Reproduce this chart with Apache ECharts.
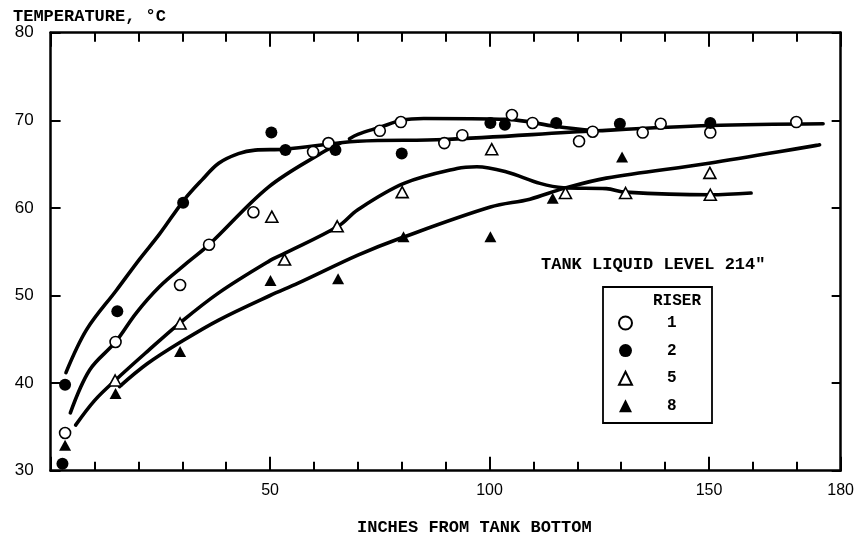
<!DOCTYPE html>
<html>
<head>
<meta charset="utf-8">
<script src="https://cdn.jsdelivr.net/npm/echarts@6/dist/echarts.min.js"></script>
<style>
  html, body { margin: 0; padding: 0; background: #fff; }
  #chart { width: 857px; height: 541px; }
</style>
</head>
<body>
<div id="chart"></div>
<script>
// Measured temperatures [inches from tank bottom, °C] for each riser
const riser1 = [[3.3,34.3],[14.8,44.7],[29.5,51.2],[36.1,55.8],[46.2,59.5],[59.8,66.4],[63.3,67.4],
  [75.0,68.8],[79.8,69.8],[89.7,67.4],[93.8,68.3],[105.1,70.6],[109.8,69.7],[120.4,67.6],[123.5,68.7],
  [134.9,68.6],[139.0,69.6],[150.3,68.6],[169.9,69.8]];
const riser2 = [[2.7,30.8],[3.3,39.8],[15.2,48.2],[30.2,60.6],[50.3,68.6],[53.5,66.6],[64.9,66.6],
  [80.0,66.2],[100.2,69.7],[103.5,69.5],[115.2,69.7],[129.7,69.6],[150.3,69.7]];
const riser5 = [[14.7,40.3],[29.5,46.8],[50.4,59.0],[53.3,54.1],[65.3,57.9],[80.1,61.8],[100.5,66.7],
  [117.3,61.7],[131.0,61.7],[150.2,64.0],[150.3,61.5]];
const riser8 = [[3.3,32.9],[14.8,38.8],[29.5,43.6],[50.1,51.7],[65.5,51.9],[80.4,56.7],[100.2,56.7],
  [114.4,61.1],[130.2,65.8]];

// Hand-faired curves through the measurements
const curveRiser2 = [[3.5,41.2],[8.2,46.1],[15,50.6],[20.2,54.1],[24.8,57.0],[30.4,60.9],[34.5,63.2],
  [38.3,65.1],[42.8,66.2],[46.6,66.6],[53.4,66.7],[70,67.6],[89.7,67.8],[124.4,68.8],[150.3,69.4],[176,69.6]];
const curveRiser1 = [[4.5,36.6],[8.9,41.5],[14.8,44.7],[19.5,48.0],[24.8,51.0],[30.8,53.6],[36.1,55.8],
  [49.7,62.4],[62.5,66.5],[66,67.4]];
const curveRiser1Upper = [[68.1,67.9],[70,68.4],[75,69.2],[80,70.0],[85,70.2],[104,70.1],[115.2,69.3],[124.4,68.8]];
const curveRiser5 = [[5.7,35.2],[10,38.0],[14.7,40.3],[22,43.6],[29.3,46.8],[38.3,50.3],[49.7,53.9],
  [53.3,54.8],[65.5,57.9],[70,59.8],[80.5,62.8],[92.6,64.5],[97.1,64.7],[103.9,64.1],[111.5,62.8],
  [116.8,62.3],[126.6,62.2],[131,61.8],[150.3,61.5],[159.6,61.7]];
const curveRiser8 = [[15.7,39.6],[22,42.2],[30,44.8],[38.3,47.2],[50,50.0],[56.4,51.4],[70,54.6],
  [79.5,56.5],[100.2,60.1],[109.2,61.0],[116.8,62.2],[126.6,63.4],[150,65.1],[175.2,67.2]];

const xLabelValues = [50, 100, 150, 180];
const yLabelValues = [30, 40, 50, 60, 70, 80];

const MONO = '"Liberation Mono", "DejaVu Sans Mono", monospace';
const SANS = '"Liberation Sans", Arial, sans-serif';
const INK = '#000';

const chart = echarts.init(document.getElementById('chart'), null, { renderer: 'canvas' });

function curve(data) {
  return {
    type: 'line', data, smooth: 0.35, showSymbol: false, symbol: 'none', silent: true,
    lineStyle: { color: INK, width: 3.6, cap: 'round', join: 'round' }, z: 2
  };
}
function points(name, data, symbol, filled, size) {
  return {
    name, type: 'scatter', data, symbol, symbolSize: size, z: 5,
    itemStyle: { color: filled ? INK : '#fff', borderColor: INK, borderWidth: filled ? 0 : 1.6, opacity: 1 }
  };
}

const baseX = { type: 'value', min: 0, max: 180, splitLine: { show: false }, gridIndex: 0 };
const lineStyle = { color: INK, width: 2.5 };

chart.setOption({
  animation: false,
  backgroundColor: '#fff',
  grid: { left: 50.6, right: 9, top: 32.7, bottom: 70.3, containLabel: false },
  xAxis: [
    Object.assign({}, baseX, {
      position: 'bottom', interval: 10,
      axisLine: { show: true, onZero: false, lineStyle },
      axisTick: { show: true, inside: true, length: 9, lineStyle: { color: INK, width: 2 } },
      axisLabel: {
        show: true, margin: 12, color: INK, fontFamily: SANS, fontSize: 16,
        formatter: v => xLabelValues.includes(v) ? String(v) : ''
      }
    }),
    Object.assign({}, baseX, {
      position: 'bottom', interval: 50,
      axisLine: { show: false }, axisLabel: { show: false },
      axisTick: { show: true, inside: true, length: 14, lineStyle: { color: INK, width: 2 } }
    }),
    Object.assign({}, baseX, {
      position: 'top', interval: 10,
      axisLine: { show: true, onZero: false, lineStyle },
      axisTick: { show: true, inside: true, length: 9, lineStyle: { color: INK, width: 2 } },
      axisLabel: { show: false }
    }),
    Object.assign({}, baseX, {
      position: 'top', interval: 50,
      axisLine: { show: false }, axisLabel: { show: false },
      axisTick: { show: true, inside: true, length: 14, lineStyle: { color: INK, width: 2 } }
    })
  ],
  yAxis: [
    {
      type: 'value', min: 30, max: 80, interval: 10, position: 'left',
      splitLine: { show: false },
      axisLine: { show: true, onZero: false, lineStyle },
      axisTick: { show: true, inside: true, length: 10, lineStyle: { color: INK, width: 2 } },
      axisLabel: {
        show: true, margin: 17, color: INK, fontFamily: SANS, fontSize: 17,
        formatter: v => yLabelValues.includes(v) ? String(v) : ''
      }
    },
    {
      type: 'value', min: 30, max: 80, interval: 10, position: 'right',
      splitLine: { show: false },
      axisLine: { show: true, onZero: false, lineStyle },
      axisTick: { show: true, inside: true, length: 9, lineStyle: { color: INK, width: 2 } },
      axisLabel: { show: false }
    }
  ],
  legend: {
    data: ['1', '2', '5', '8'],
    orient: 'vertical', left: 613, top: 310,
    itemWidth: 13, itemHeight: 13, itemGap: 11.6,
    selectedMode: false,
    textStyle: { color: INK, fontFamily: MONO, fontSize: 16, fontWeight: 'bold', padding: [0, 0, 0, 30] }
  },
  graphic: [
    { type: 'text', left: 13, top: 8,
      style: { text: 'TEMPERATURE, °C', fill: INK, font: `bold 17px ${MONO}` } },
    { type: 'text', left: 541, top: 256,
      style: { text: 'TANK LIQUID LEVEL 214"', fill: INK, font: `bold 17px ${MONO}` } },
    { type: 'text', left: 357, top: 519,
      style: { text: 'INCHES FROM TANK BOTTOM', fill: INK, font: `bold 17px ${MONO}` } },
    { type: 'rect', shape: { x: 603, y: 287, width: 109, height: 136 },
      style: { fill: 'none', stroke: INK, lineWidth: 1.8 }, z: 10 },
    { type: 'text', left: 653, top: 293,
      style: { text: 'RISER', fill: INK, font: `bold 16px ${MONO}` } }
  ],
  series: [
    curve(curveRiser2),
    curve(curveRiser1),
    curve(curveRiser1Upper),
    curve(curveRiser5),
    curve(curveRiser8),
    points('1', riser1, 'circle', false, 11),
    points('2', riser2, 'circle', true, 12),
    points('5', riser5, 'triangle', false, [12, 11]),
    points('8', riser8, 'triangle', true, [12, 11])
  ]
});
</script>
</body>
</html>
